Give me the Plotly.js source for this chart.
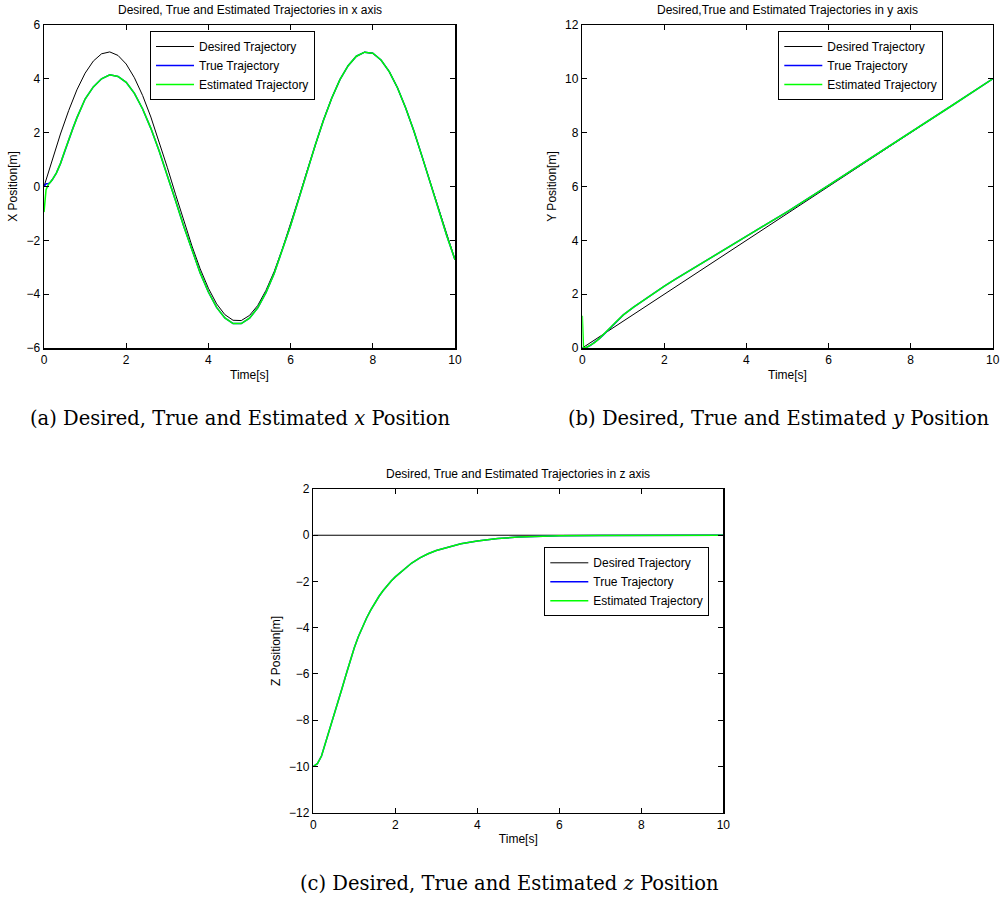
<!DOCTYPE html>
<html><head><meta charset="utf-8">
<script src="https://cdn.plot.ly/plotly-3.0.1.min.js"></script>
<style>html,body{margin:0;padding:0;background:#fff}#chart{width:1001px;height:900px}</style>
</head><body><div id="chart"></div>
<script>
// ---------- data ----------
const timeDesired = [0,0.2,0.4,0.6,0.8,1.0,1.2,1.4,1.6,1.8,2.0,2.2,2.4,2.6,2.8,3.0,3.2,3.4,3.6,3.8,4.0,4.2,4.4,4.6,4.8,5.0,5.2,5.4,5.6,5.8,6.0,6.2,6.4,6.6,6.8,7.0,7.2,7.4,7.6,7.8,8.0,8.2,8.4,8.6,8.8,9.0,9.2,9.4,9.6,9.8,10.0];
const xDesired = [0,0.99,1.95,2.82,3.59,4.21,4.66,4.93,5.00,4.87,4.55,4.04,3.38,2.58,1.67,0.71,-0.29,-1.28,-2.21,-3.06,-3.78,-4.36,-4.76,-4.97,-4.98,-4.79,-4.42,-3.86,-3.16,-2.32,-1.40,-0.42,0.58,1.56,2.47,3.28,3.97,4.49,4.84,4.99,4.95,4.70,4.27,3.67,2.92,2.06,1.11,0.12,-0.87,-1.83,-2.72];

const timeXEst = [0,0.02,0.05,0.1,0.15,0.2,0.3,0.4,0.5,0.6,0.7,0.8,0.9,1.0,1.2,1.4,1.6,1.8,2.0,2.2,2.4,2.6,2.8,3.0,3.2,3.4,3.6,3.8,4.0,4.2,4.4,4.6,4.8,5.0,5.2,5.4,5.6,5.8,6.0,6.2,6.4,6.6,6.8,7.0,7.2,7.4,7.6,7.8,8.0,8.2,8.4,8.6,8.8,9.0,9.2,9.4,9.6,9.8,10.0];
const xEstimated = [-0.95,-0.45,-0.12,0.05,0.15,0.25,0.5,0.85,1.3,1.75,2.15,2.55,2.9,3.25,3.7,4.0,4.15,4.09,3.87,3.46,2.88,2.16,1.33,0.43,-0.52,-1.48,-2.38,-3.21,-3.92,-4.49,-4.88,-5.09,-5.09,-4.89,-4.51,-3.94,-3.23,-2.38,-1.45,-0.46,0.55,1.54,2.46,3.28,3.97,4.49,4.84,4.99,4.95,4.70,4.27,3.67,2.92,2.06,1.11,0.12,-0.87,-1.83,-2.72];
const xTrue = [0,0.05,0.1,0.1,0.15,0.25,0.5,0.85,1.3,1.75,2.15,2.55,2.9,3.25,3.7,4.0,4.15,4.09,3.87,3.46,2.88,2.16,1.33,0.43,-0.52,-1.48,-2.38,-3.21,-3.92,-4.49,-4.88,-5.09,-5.09,-4.89,-4.51,-3.94,-3.23,-2.38,-1.45,-0.46,0.55,1.54,2.46,3.28,3.97,4.49,4.84,4.99,4.95,4.70,4.27,3.67,2.92,2.06,1.11,0.12,-0.87,-1.83,-2.72];

const timeYDesired = [0,1,2,3,4,5,6,7,8,9,10];
const yDesired = [0,1,2,3,4,5,6,7,8,9,10];
const timeYEst = [0,0.03,0.1,0.2,0.3,0.4,0.5,0.6,0.7,0.8,0.9,1.0,1.25,1.5,1.75,2.0,2.25,2.5,3.0,3.5,4.0,5.0,6.0,7.0,8.0,9.0,10.0];
const yEstimated = [1.2,0.0,0.02,0.1,0.2,0.33,0.47,0.62,0.78,0.94,1.09,1.23,1.52,1.79,2.05,2.3,2.54,2.77,3.21,3.66,4.12,5.07,6.04,7.02,8.01,9.0,10.0];
const yTrue = [0,0.0,0.02,0.1,0.2,0.33,0.47,0.62,0.78,0.94,1.09,1.23,1.52,1.79,2.05,2.3,2.54,2.77,3.21,3.66,4.12,5.07,6.04,7.02,8.01,9.0,10.0];

const timeZDesired = [0,1,2,3,4,5,6,7,8,9,10];
const zDesired = [0,0,0,0,0,0,0,0,0,0,0];
const timeZEst = [0,0.1,0.2,0.3,0.4,0.5,0.6,0.7,0.8,0.9,1.0,1.1,1.2,1.3,1.4,1.5,1.6,1.7,1.8,1.9,2.0,2.2,2.4,2.6,2.8,3.0,3.3,3.6,4.0,4.5,5.0,5.5,6.0,7.0,8.0,9.0,10.0];
const zEstimated = [-10,-9.88,-9.55,-8.98,-8.42,-7.85,-7.25,-6.63,-6.02,-5.43,-4.87,-4.38,-3.95,-3.58,-3.24,-2.93,-2.65,-2.4,-2.18,-1.98,-1.8,-1.48,-1.2,-0.98,-0.8,-0.66,-0.5,-0.37,-0.25,-0.14,-0.08,-0.04,-0.02,-0.01,0,0,0];
const zTrue = zEstimated.slice();

const seriesNames = ['Desired Trajectory','True Trajectory','Estimated Trajectory'];
const seriesColors = ['#000000','#0000ff','#00ff00'];

const subplotTitles = ['Desired, True and Estimated Trajectories in x axis','Desired,True and Estimated Trajectories in y axis','Desired, True and Estimated Trajectories in z axis'];
const yTitles = ['X Position[m]','Y Position[m]','Z Position[m]'];
const xTitle = 'Time[s]';
const captions = ['(a) Desired, True and Estimated <i>x</i> Position','(b) Desired, True and Estimated <i>y</i> Position','(c) Desired, True and Estimated <i>z</i> Position'];

// ---------- traces ----------
const sans = 'Liberation Sans, Arial, Helvetica, sans-serif';
const lineWidths = [1, 1.5, 1.5];
function mk(x, y, i, xa, ya, lg) {
  return {x:x, y:y, type:'scatter', mode:'lines', name:seriesNames[i],
    line:{color:seriesColors[i], width:lineWidths[i]}, xaxis:xa, yaxis:ya, legend:lg, showlegend:true};
}
const data = [
  mk(timeDesired, xDesired, 0, 'x', 'y', 'legend'),
  mk(timeXEst, xTrue, 1, 'x', 'y', 'legend'),
  mk(timeXEst, xEstimated, 2, 'x', 'y', 'legend'),
  mk(timeYDesired, yDesired, 0, 'x2', 'y2', 'legend2'),
  mk(timeYEst, yTrue, 1, 'x2', 'y2', 'legend2'),
  mk(timeYEst, yEstimated, 2, 'x2', 'y2', 'legend2'),
  mk(timeZDesired, zDesired, 0, 'x3', 'y3', 'legend3'),
  mk(timeZEst, zTrue, 1, 'x3', 'y3', 'legend3'),
  mk(timeZEst, zEstimated, 2, 'x3', 'y3', 'legend3')
];

// ---------- layout ----------
const W = 1001, H = 900;
function ax(extra) {
  return Object.assign({showline:true, mirror:'ticks', linecolor:'#000', linewidth:1.5,
    ticks:'inside', ticklen:5, tickwidth:1, tickcolor:'#000', showgrid:false, zeroline:false,
    automargin:false, fixedrange:true,
    tickfont:{family:sans, size:12, color:'#000'}}, extra);
}
function xa(d0, d1, anchor) {
  return ax({domain:[d0/W, d1/W], anchor:anchor, range:[0,10], dtick:2, tick0:0,
    title:{text:xTitle, font:{family:sans, size:12, color:'#000'}, standoff:4}});
}
function ya(top, bot, anchor, r, t) {
  return ax({domain:[1-bot/H, 1-top/H], anchor:anchor, range:r, dtick:2, tick0:0,
    title:{text:t, font:{family:sans, size:12, color:'#000'}, standoff:6}});
}
function leg(x, y) {
  return {x:x/W, y:1-y/H, xanchor:'left', yanchor:'top', bgcolor:'#fff', bordercolor:'#000', borderwidth:1,
    font:{family:sans, size:12, color:'#000'}, tracegroupgap:0, itemwidth:38, itemclick:false};
}
const annotations = [];
[['x','y'],['x2','y2'],['x3','y3']].forEach((p,i)=>{
  annotations.push({text:subplotTitles[i], xref:p[0]+' domain', yref:p[1]+' domain', x:0.5, y:1,
    xanchor:'center', yanchor:'bottom', yshift:6, showarrow:false, font:{family:sans, size:12, color:'#000'}});
});
const capPos = [[240,418],[778,418],[509,883]];
captions.forEach((c,i)=>{
  annotations.push({text:c, xref:'paper', yref:'paper', x:capPos[i][0]/W, y:1-capPos[i][1]/H,
    xanchor:'center', yanchor:'middle', showarrow:false, font:{family:'DejaVu Serif, Liberation Serif, serif', size:19.5, color:'#000'}});
});

const layout = {
  width:W, height:H, margin:{l:0,r:0,t:0,b:0}, paper_bgcolor:'#fff', plot_bgcolor:'#fff',
  showlegend:true,
  xaxis: xa(44, 455, 'y'),
  yaxis: ya(25, 348, 'x', [-6,6], yTitles[0]),
  xaxis2: xa(582.3, 992.7, 'y2'),
  yaxis2: ya(25, 348, 'x2', [0,12], yTitles[1]),
  xaxis3: xa(313.3, 723.3, 'y3'),
  yaxis3: ya(489, 812.7, 'x3', [-12,2], yTitles[2]),
  legend: leg(150, 31),
  legend2: leg(778.3, 31),
  legend3: leg(544.3, 547.3),
  annotations: annotations
};
Plotly.newPlot('chart', data, layout, {staticPlot:true, displayModeBar:false});
</script></body></html>
